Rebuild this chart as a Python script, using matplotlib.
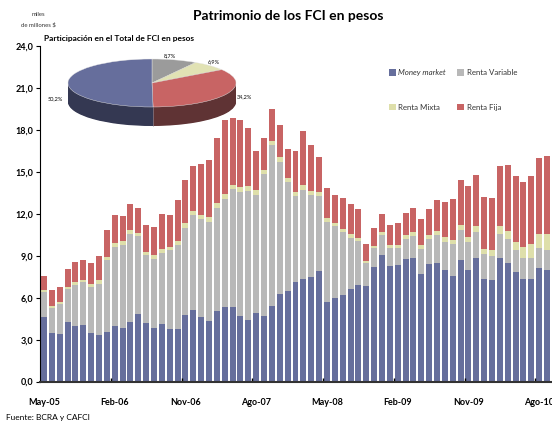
import numpy as np
import matplotlib.pyplot as plt
from matplotlib.ticker import FixedLocator

plt.rcParams['font.family'] = ['Lato', 'DejaVu Sans']

# meses May-05 .. Sep-10
mes_abrev = ["Ene", "Feb", "Mar", "Abr", "May", "Jun", "Jul", "Ago", "Sep", "Oct", "Nov", "Dic"]
months = [f"{mes_abrev[(4 + i) % 12]}-{(5 + (4 + i) // 12):02d}" for i in range(65)]

# miles de millones $
money_market = [4.62, 3.48, 3.40, 4.26, 3.98, 4.05, 3.48, 3.34, 3.55, 3.98,
                3.83, 4.26, 4.84, 4.19, 3.83, 4.12, 3.76, 3.76, 4.77, 5.12,
                4.62, 4.34, 5.05, 5.34, 5.34, 4.69, 4.41, 4.91, 4.69, 5.41,
                6.27, 6.48, 7.13, 7.34, 7.48, 7.91, 5.69, 5.98, 6.20, 6.63,
                6.91, 6.84, 8.20, 9.06, 8.27, 8.35, 8.78, 8.85, 7.70, 8.42,
                8.49, 7.99, 7.56, 8.70, 7.99, 8.85, 7.34, 7.27, 8.85, 8.49,
                7.84, 7.34, 7.34, 8.13, 7.99]
renta_variable = [1.79, 1.79, 2.17, 2.37, 2.93, 3.08, 3.29, 3.64, 5.15, 5.65,
                  5.95, 6.31, 5.58, 4.87, 4.95, 5.08, 5.66, 6.02, 6.23, 6.81,
                  7.02, 7.09, 7.38, 7.73, 8.45, 8.89, 9.24, 8.45, 10.17, 11.53,
                  9.45, 7.81, 6.16, 6.38, 5.88, 5.38, 5.74, 5.16, 4.51, 3.65,
                  3.15, 1.65, 1.36, 1.44, 1.29, 1.21, 1.43, 1.57, 1.79, 1.79,
                  2.01, 2.00, 2.29, 2.15, 2.00, 1.86, 1.79, 1.72, 1.72, 1.72,
                  1.58, 1.51, 1.51, 1.43, 1.43]
renta_mixta = [0.14, 0.14, 0.15, 0.14, 0.22, 0.14, 0.21, 0.29, 0.22, 0.29,
               0.28, 0.28, 0.22, 0.22, 0.28, 0.29, 0.21, 0.28, 0.36, 0.28,
               0.29, 0.35, 0.36, 0.36, 0.29, 0.35, 0.35, 0.36, 0.29, 0.29,
               0.36, 0.29, 0.29, 0.36, 0.29, 0.29, 0.28, 0.22, 0.21, 0.29,
               0.22, 0.14, 0.15, 0.21, 0.22, 0.22, 0.29, 0.29, 0.29, 0.29,
               0.28, 0.36, 0.29, 0.36, 0.36, 0.43, 0.36, 0.43, 0.57, 0.57,
               0.57, 0.78, 1.00, 1.01, 1.15]
renta_fija = [1.01, 1.14, 1.05, 1.29, 1.43, 1.43, 1.51, 1.72, 1.93, 2.01,
              1.80, 1.86, 1.79, 1.93, 2.01, 2.51, 2.30, 2.95, 3.08, 3.23,
              3.65, 4.09, 4.65, 5.30, 4.80, 4.80, 4.16, 2.79, 2.29, 2.29,
              2.30, 2.08, 2.93, 3.86, 3.29, 2.50, 2.16, 2.00, 2.22, 2.14,
              2.08, 1.22, 1.29, 1.29, 1.43, 1.58, 1.57, 1.72, 1.86, 1.86,
              2.23, 2.51, 2.93, 3.23, 3.65, 3.65, 3.73, 3.72, 4.30, 4.73,
              4.73, 4.66, 4.87, 5.44, 5.58]

# participacion (%) ultimo mes: Renta Variable, Renta Mixta, Renta Fija, Money market
pie_shares = [8.7, 6.9, 34.2, 50.2]

C_MM, C_RV, C_RM, C_RF = "#666E9C", "#B8B8B8", "#DEDFAA", "#C86464"

fig = plt.figure(figsize=(5.52, 4.23), dpi=100)
W, H = 552, 423
ax = fig.add_axes([40 / W, 41.5 / H, 511 / W, 335 / H])

x = np.arange(len(months))
bottom = np.zeros(len(months))
handles = {}
for vals, color, name in [(money_market, C_MM, "Money market"),
                          (renta_variable, C_RV, "Renta Variable"),
                          (renta_mixta, C_RM, "Renta Mixta"),
                          (renta_fija, C_RF, "Renta Fija")]:
    handles[name] = ax.bar(x, vals, 0.76, bottom=bottom, color=color, linewidth=0, label=name)
    bottom += np.array(vals)

ax.set_xlim(-0.5, len(months) - 0.5)
ax.set_ylim(0, 24)
yt = np.arange(0, 25, 3)
ax.set_yticks(yt)
ax.set_yticklabels([f"{v:.1f}".replace(".", ",") for v in yt], fontweight="bold")
ax.tick_params(axis="y", direction="out", length=3, width=0.8, labelsize=6.5, pad=2)

lab_pos = x[::9]
ax.set_xticks(lab_pos)
ax.set_xticklabels([months[i] for i in lab_pos], fontweight="bold")
ax.tick_params(axis="x", which="major", length=0, labelsize=6.5, pad=12)
ax.xaxis.set_minor_locator(FixedLocator(lab_pos[1:] - 0.5))
ax.tick_params(axis="x", which="minor", direction="in", length=3, width=1)

for s in ["top", "right"]:
    ax.spines[s].set_visible(False)
ax.spines["left"].set_linewidth(0.8)
ax.spines["bottom"].set_linewidth(1.5)
ax.spines["bottom"].set_color("#333333")

leg = ax.legend([handles["Money market"], handles["Renta Mixta"],
                 handles["Renta Variable"], handles["Renta Fija"]],
                ["Money market", "Renta Mixta", "Renta Variable", "Renta Fija"],
                ncol=2, loc="upper left", bbox_to_anchor=(389 / W, 1 - 69 / H),
                bbox_transform=fig.transFigure, frameon=False, fontsize=5.7,
                handlelength=0.9, handleheight=0.9, handletextpad=0.3,
                columnspacing=1.4, labelspacing=3.5, borderpad=0, borderaxespad=0)
for t in leg.get_texts():
    t.set_color("#333333")
leg.get_texts()[0].set_fontstyle("italic")

fig.text(288 / W, 1 - 16 / H, "Patrimonio de los FCI en pesos", ha="center", va="center",
         fontsize=10, fontweight="bold")
fig.text(38 / W, 1 - 15 / H, "miles", ha="center", va="center", fontsize=4.3, color="#333333")
fig.text(38 / W, 1 - 25 / H, "de millones $", ha="center", va="center", fontsize=4.3, color="#333333")
fig.text(6 / W, 1 - 417 / H, "Fuente: BCRA y CAFCI", ha="left", va="center", fontsize=6)
fig.text(44 / W, 1 - 38.5 / H, "Participación en el Total de FCI en pesos", ha="left", va="center",
         fontsize=6, fontweight="bold")

# torta 3D (elipse centrada en 152,83 px; semiejes 84 x 24 px; profundidad 19 px)
pax = fig.add_axes([40 / W, (H - 135) / H, 224 / W, 85 / H])
depth = 19 / 24
top_colors = ["#9B9B9B", "#E1E2B4", C_RF, C_MM]
wall_colors = ["#555555", "#77775A", "#5F3334", "#343852"]
n = 30
for i in range(n, 0, -1):
    pax.pie(pie_shares, colors=wall_colors, startangle=90, counterclock=False,
            center=(0, -depth * i / n), radius=1, wedgeprops=dict(linewidth=0))
pax.pie(pie_shares, colors=top_colors, startangle=90, counterclock=False,
        wedgeprops=dict(linewidth=0.3, edgecolor="#E8E8E8"))
theta = 2 * np.pi * sum(pie_shares[:3]) / 100
pax.plot([np.sin(theta)] * 2, [np.cos(theta), np.cos(theta) - depth], color="#9090A0", lw=0.4)
pax.set_xlim(-112 / 84, 112 / 84)
pax.set_ylim(-52 / 24, 33 / 24)
pax.set_aspect("auto")
pax.axis("off")

lbl_xy = [(0.21, 1.12), (0.73, 0.88), (1.1, -0.58), (-1.15, -0.67)]
for share, (lx, ly) in zip(pie_shares, lbl_xy):
    pax.text(lx, ly, f"{share:.1f}%".replace(".", ","), ha="center", va="center", fontsize=4)

fig.savefig("out.png", dpi=100)
